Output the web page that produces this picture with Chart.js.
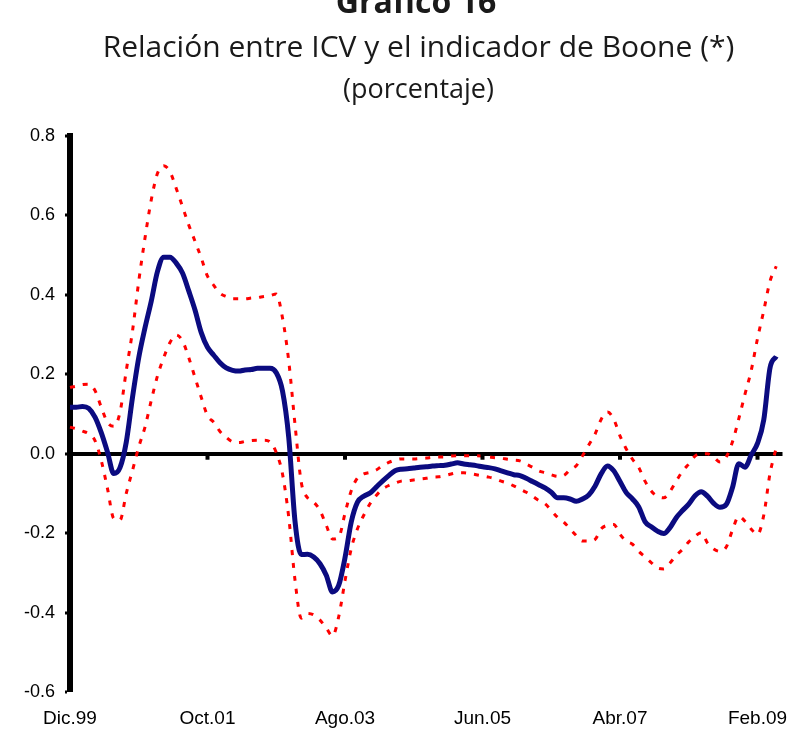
<!DOCTYPE html>
<html>
  <head>
    <meta charset="utf-8">
    <title>Relación entre ICV y el indicador de Boone</title>
    <script src="https://cdn.jsdelivr.net/npm/chart.js@4/dist/chart.umd.min.js"></script>
    <style>
      body { margin: 0; background: #fff; }
    </style>
  </head>

  <body>
    <canvas id="canvas" width="797" height="735"></canvas>
    <script>
      // monthly categories from Dic.99 (one spare slot at the end so the zero line runs on)
      const monthNames = ['Ene', 'Feb', 'Mar', 'Abr', 'May', 'Jun', 'Jul', 'Ago', 'Sep', 'Oct', 'Nov', 'Dic'];
      const months = [];
      for (let k = 0; k < 115; k++) {
        const m = (11 + k) % 12;
        const yr = 1999 + Math.floor((11 + k) / 12);
        months.push(monthNames[m] + '.' + String(yr).slice(2));
      }
      const tickLabels = ['Dic.99', 'Oct.01', 'Ago.03', 'Jun.05', 'Abr.07', 'Feb.09'];

      // ICV / Boone relation (central estimate)
      const relacion = [
        0.117, 0.117, 0.119, 0.114, 0.092, 0.053, 0.004, -0.050, -0.035, 0.029,
        0.142, 0.242, 0.317, 0.384, 0.459, 0.495, 0.495, 0.480, 0.455, 0.410,
        0.362, 0.305, 0.268, 0.248, 0.229, 0.216, 0.210, 0.208, 0.211, 0.212,
        0.215, 0.215, 0.215, 0.204, 0.158, 0.041, -0.170, -0.254, -0.253, -0.260,
        -0.277, -0.306, -0.348, -0.331, -0.262, -0.172, -0.122, -0.107, -0.099, -0.084,
        -0.069, -0.055, -0.043, -0.039, -0.038, -0.036, -0.034, -0.033, -0.031, -0.030,
        -0.029, -0.026, -0.023, -0.026, -0.028, -0.030, -0.033, -0.035, -0.038, -0.043,
        -0.048, -0.053, -0.055, -0.062, -0.070, -0.078, -0.086, -0.097, -0.111, -0.111,
        -0.114, -0.120, -0.114, -0.104, -0.082, -0.050, -0.031, -0.043, -0.070, -0.098,
        -0.114, -0.134, -0.171, -0.184, -0.195, -0.201, -0.186, -0.161, -0.143, -0.127,
        -0.106, -0.096, -0.107, -0.125, -0.135, -0.128, -0.085, -0.025, -0.034, -0.003,
        0.026, 0.085, 0.216, 0.245
      ];

      // upper band
      const bandaSup = [
        0.167, 0.170, 0.174, 0.175, 0.159, 0.117, 0.079, 0.069, 0.104, 0.209,
        0.309, 0.434, 0.543, 0.639, 0.706, 0.725, 0.710, 0.668, 0.622, 0.576,
        0.535, 0.493, 0.447, 0.424, 0.404, 0.396, 0.390, 0.390, 0.390, 0.392,
        0.393, 0.396, 0.398, 0.402, 0.342, 0.233, 0.074, -0.072, -0.111, -0.122,
        -0.143, -0.180, -0.215, -0.210, -0.150, -0.093, -0.061, -0.051, -0.047, -0.041,
        -0.030, -0.022, -0.016, -0.013, -0.013, -0.013, -0.012, -0.011, -0.009, -0.008,
        -0.008, -0.006, -0.005, -0.005, -0.005, -0.005, -0.006, -0.008, -0.010, -0.011,
        -0.014, -0.016, -0.018, -0.026, -0.034, -0.043, -0.048, -0.053, -0.057, -0.055,
        -0.040, -0.030, -0.005, 0.022, 0.049, 0.087, 0.105, 0.087, 0.045, 0.012,
        -0.014, -0.035, -0.069, -0.094, -0.107, -0.111, -0.095, -0.069, -0.044, -0.026,
        -0.006, 0.000, 0.000, -0.009, -0.021, -0.008, 0.030, 0.088, 0.150, 0.210,
        0.290, 0.360, 0.434, 0.472
      ];

      // lower band
      const bandaInf = [
        0.067, 0.063, 0.057, 0.050, 0.033, -0.017, -0.088, -0.163, -0.167, -0.100,
        -0.042, 0.017, 0.067, 0.134, 0.196, 0.242, 0.280, 0.299, 0.284, 0.242,
        0.192, 0.142, 0.096, 0.079, 0.056, 0.041, 0.030, 0.028, 0.031, 0.033,
        0.034, 0.034, 0.030, 0.003, -0.051, -0.160, -0.318, -0.414, -0.402, -0.406,
        -0.419, -0.439, -0.459, -0.410, -0.320, -0.239, -0.189, -0.155, -0.126, -0.105,
        -0.089, -0.080, -0.074, -0.069, -0.068, -0.066, -0.064, -0.062, -0.059, -0.058,
        -0.055, -0.051, -0.048, -0.048, -0.050, -0.053, -0.056, -0.059, -0.063, -0.069,
        -0.074, -0.081, -0.089, -0.097, -0.107, -0.118, -0.126, -0.143, -0.160, -0.172,
        -0.189, -0.206, -0.220, -0.220, -0.216, -0.189, -0.180, -0.178, -0.203, -0.220,
        -0.228, -0.246, -0.260, -0.274, -0.288, -0.290, -0.275, -0.256, -0.241, -0.222,
        -0.208, -0.199, -0.225, -0.240, -0.246, -0.235, -0.192, -0.158, -0.170, -0.190,
        -0.203, -0.155, -0.050, 0.015
      ];

      const tickFamily = "'Liberation Sans', Arial, sans-serif";

      // cut-off heading at the very top of the page
      const heading = {
        id: 'heading',
        afterDraw(chart) {
          const ctx = chart.ctx;
          ctx.save();
          ctx.font = "bold 32px 'Open Sans', sans-serif";
          ctx.fillStyle = '#1a1a1a';
          ctx.textAlign = 'center';
          ctx.textBaseline = 'alphabetic';
          ctx.fillText('Gráfico 16', 416, 13);
          ctx.restore();
        },
      };

      // the title lines sit a bit right of the page centre, over the plot
      const titleShift = {
        id: 'titleShift',
        afterLayout(chart) {
          chart.boxes.forEach((b) => {
            if (b.position === 'top' && b.options && typeof b.options.text === 'string') {
              b.left = 54.5;
              b.right = 782.5;
              b.width = b.right - b.left;
            }
          });
        },
      };

      // little marks under the zero line where the dates are
      const zeroTicks = {
        id: 'zeroTicks',
        afterDatasetsDraw(chart) {
          const { ctx, scales } = chart;
          const y0 = scales.y.getPixelForValue(0);
          ctx.save();
          ctx.fillStyle = '#000';
          tickLabels.slice(1).forEach((lab) => {
            const x = scales.x.getPixelForValue(months.indexOf(lab));
            ctx.fillRect(x - 2, y0, 4, 6);
          });
          ctx.restore();
        },
      };

      const ctx = document.getElementById('canvas').getContext('2d');
      new Chart(ctx, {
        type: 'line',
        data: {
          labels: months,
          datasets: [
            {
              label: 'Relación',
              data: relacion,
              borderColor: '#0b0b80',
              borderWidth: 5,
              pointRadius: 0,
              cubicInterpolationMode: 'monotone',
            },
            {
              label: 'Banda superior',
              data: bandaSup,
              borderColor: '#ff0000',
              borderWidth: 3,
              borderDash: [5, 8],
              pointRadius: 0,
              cubicInterpolationMode: 'monotone',
            },
            {
              label: 'Banda inferior',
              data: bandaInf,
              borderColor: '#ff0000',
              borderWidth: 3,
              borderDash: [5, 8],
              pointRadius: 0,
              cubicInterpolationMode: 'monotone',
            },
          ],
        },
        options: {
          responsive: false,
          animation: false,
          layout: {
            padding: { left: 0, right: 14.5, top: 0, bottom: 0 },
          },
          plugins: {
            legend: { display: false },
            tooltip: { enabled: false },
            title: {
              display: true,
              text: 'Relación entre ICV y el indicador de Boone (*)',
              color: '#1a1a1a',
              font: { family: "'Open Sans', sans-serif", size: 30, weight: 'normal', lineHeight: 1.2 },
              padding: { top: 30, bottom: 0 },
            },
            subtitle: {
              display: true,
              text: '(porcentaje)',
              color: '#1a1a1a',
              font: { family: "'Open Sans', sans-serif", size: 27, weight: 'normal', lineHeight: 1.2 },
              padding: { top: 8, bottom: 29.6 },
            },
          },
          scales: {
            x: {
              grid: { display: false, drawTicks: false },
              border: { display: false },
              ticks: {
                autoSkip: false,
                maxRotation: 0,
                padding: 15,
                color: '#000',
                font: { family: tickFamily, size: 19 },
                callback: (value, index) => (tickLabels.includes(months[index]) ? months[index] : ''),
              },
              afterFit(scale) {
                scale.paddingLeft = 0;
                scale.paddingRight = 0;
                scale.height = 43;
              },
            },
            y: {
              min: -0.6,
              max: 0.8,
              border: { display: true, color: '#000', width: 6 },
              grid: {
                drawTicks: true,
                tickLength: 5,
                tickWidth: 3,
                tickColor: '#000',
                color: (c) => (c.tick && Math.abs(c.tick.value) < 1e-9 ? '#000' : 'rgba(0,0,0,0)'),
                lineWidth: (c) => (c.tick && Math.abs(c.tick.value) < 1e-9 ? 4 : 0),
              },
              ticks: {
                stepSize: 0.2,
                padding: 10,
                color: '#000',
                font: { family: tickFamily, size: 18 },
                callback: (v) => Number(v).toFixed(1),
              },
              afterFit(scale) {
                scale.width = 70;
              },
            },
          },
        },
        plugins: [heading, titleShift, zeroTicks],
      });
    </script>
  </body>
</html>
